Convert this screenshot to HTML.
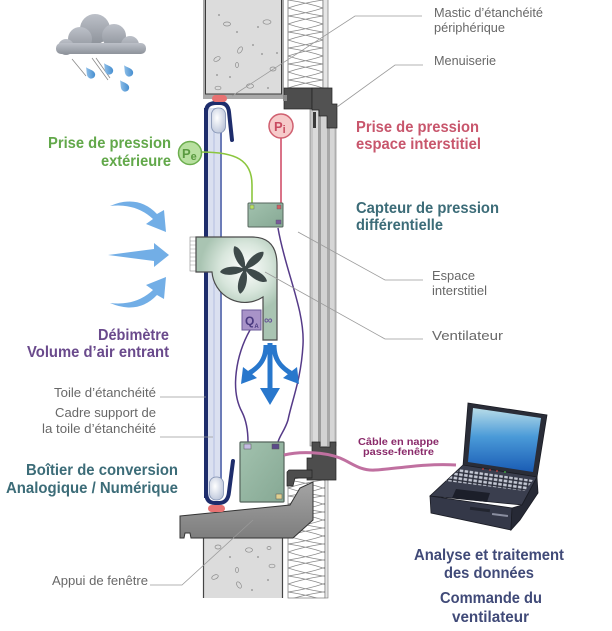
<!DOCTYPE html>
<html><head><meta charset="utf-8"><style>html,body{margin:0;padding:0;background:#fff}svg{display:block}</style></head>
<body>
<svg width="612" height="631" viewBox="0 0 612 631" xmlns="http://www.w3.org/2000/svg" font-family="'Liberation Sans', Arial, sans-serif">
<defs>
  <linearGradient id="cloudG" x1="0" y1="0" x2="0" y2="1"><stop offset="0" stop-color="#bcc0c8"/><stop offset="1" stop-color="#8e939b"/></linearGradient>
  <linearGradient id="dropG" x1="0" y1="0" x2="1" y2="1"><stop offset="0" stop-color="#a8d0f0"/><stop offset="1" stop-color="#3a86cc"/></linearGradient>
  <radialGradient id="fanG" cx="245" cy="268" r="45" gradientUnits="userSpaceOnUse"><stop offset="0" stop-color="#ffffff"/><stop offset="0.55" stop-color="#d8e6dc"/><stop offset="1" stop-color="#a9c4b2"/></radialGradient>
  <radialGradient id="bulbG" cx="0.4" cy="0.4" r="0.7"><stop offset="0" stop-color="#ffffff"/><stop offset="1" stop-color="#b8c2d8"/></radialGradient>
  <linearGradient id="sillG" x1="0" y1="0" x2="0" y2="1"><stop offset="0" stop-color="#a4a4a4"/><stop offset="1" stop-color="#7e7e7e"/></linearGradient>
  <linearGradient id="screenG" x1="0" y1="0" x2="0" y2="1"><stop offset="0" stop-color="#b8dce8"/><stop offset="0.45" stop-color="#4a9ad8"/><stop offset="1" stop-color="#1a5cb4"/></linearGradient>
  <linearGradient id="boxG" x1="0" y1="0" x2="1" y2="1"><stop offset="0" stop-color="#a2c2ae"/><stop offset="1" stop-color="#86a894"/></linearGradient>
  <pattern id="ins" x="288" y="0" width="35" height="16" patternUnits="userSpaceOnUse">
    <rect width="35" height="16" fill="#fff"/>
    <path d="M0,0 Q20,3 35,8 Q20,13 0,16 M35,0 Q15,3 0,8 Q15,13 35,16" fill="none" stroke="#8a8a8a" stroke-width="0.8"/>
  </pattern>
  <pattern id="keys" width="5" height="4" patternUnits="userSpaceOnUse" patternTransform="rotate(8)">
    <rect width="5" height="4" fill="#2a2d3a"/><rect x="0.7" y="0.7" width="3.6" height="2.6" fill="#c4c8d4"/>
  </pattern>
</defs>

<!-- Cloud -->
<g fill="url(#cloudG)">
  <circle cx="95" cy="29" r="15"/><circle cx="80" cy="39" r="12"/><circle cx="114" cy="36" r="12"/>
  <circle cx="130" cy="45" r="9"/><circle cx="66" cy="47" r="8"/>
  <rect x="56" y="43" width="90" height="11" rx="5"/>
</g>
<g stroke="#8a8a8a" stroke-width="0.8">
  <line x1="72" y1="59" x2="86" y2="76"/><line x1="92" y1="58" x2="108" y2="80"/><line x1="96" y1="58" x2="110" y2="78"/>
</g>
<g fill="url(#dropG)">
  <path d="M0,-7 C1,-4 4,-1 4,2 A4,4 0 1 1 -4,2 C-4,-1 -1,-4 0,-7 Z" transform="translate(90,73) rotate(-35)"/>
  <path d="M0,-7 C1,-4 4,-1 4,2 A4,4 0 1 1 -4,2 C-4,-1 -1,-4 0,-7 Z" transform="translate(108,69) rotate(-35)"/>
  <path d="M0,-7 C1,-4 4,-1 4,2 A4,4 0 1 1 -4,2 C-4,-1 -1,-4 0,-7 Z" transform="translate(128,71) rotate(-35)"/>
  <path d="M0,-7 C1,-4 4,-1 4,2 A4,4 0 1 1 -4,2 C-4,-1 -1,-4 0,-7 Z" transform="translate(124,86) rotate(-35)"/>
</g>

<!-- Top concrete -->
<rect x="203" y="-1" width="81" height="100" fill="#a9a9a9"/>
<rect x="205.5" y="-1" width="76" height="95" fill="#dcdcdc" stroke="#3a3a3a" stroke-width="1"/>
<g fill="none" stroke="#8c8c8c" stroke-width="0.7">
  <ellipse cx="227" cy="24" rx="3.5" ry="2"/><ellipse cx="267" cy="22" rx="4" ry="2.2"/>
  <ellipse cx="240" cy="50" rx="2" ry="3.5" transform="rotate(30 240 50)"/><ellipse cx="217" cy="59" rx="3.5" ry="2" transform="rotate(-30 217 59)"/>
  <ellipse cx="218" cy="88" rx="3" ry="1.8"/><ellipse cx="250" cy="86" rx="3.5" ry="2.2"/><ellipse cx="273" cy="69" rx="3" ry="2"/>
  <ellipse cx="237" cy="65" rx="1.5" ry="2.5"/>
</g>
<g fill="#8c8c8c">
  <circle cx="219" cy="15" r="0.9"/><circle cx="253" cy="45" r="0.9"/><circle cx="237" cy="32" r="0.9"/><circle cx="258" cy="27" r="0.9"/>
  <circle cx="277" cy="53" r="0.9"/><circle cx="230" cy="77" r="0.9"/><circle cx="268" cy="88" r="0.9"/><circle cx="217" cy="75" r="0.9"/><circle cx="262" cy="54" r="0.9"/>
</g>
<!-- top insulation -->
<rect x="288" y="-1" width="35" height="89" fill="url(#ins)" stroke="#777" stroke-width="0.8"/>
<rect x="323" y="-1" width="5" height="89" fill="#e6e6e6" stroke="#777" stroke-width="0.7"/>

<!-- Glazing frame -->
<rect x="310" y="106" width="26" height="340" fill="#c6c6c6" stroke="#777" stroke-width="0.6"/>
<rect x="313" y="106" width="5" height="340" fill="#dadada"/>
<rect x="318" y="106" width="3" height="340" fill="#9c9c9c"/>
<rect x="321" y="106" width="6" height="340" fill="#d2d2d2"/>
<rect x="327" y="106" width="3" height="340" fill="#a8a8a8"/>
<rect x="330" y="106" width="4" height="340" fill="#d6d6d6"/>

<!-- Top dark frame -->
<rect x="284" y="88" width="28" height="21" fill="#4d4d4d" stroke="#222" stroke-width="0.7"/>
<rect x="283" y="95" width="4" height="6" fill="#8a8a8a"/>
<polygon points="312,88 332,88 332,104 337,104 337,128 327,128 327,116 319,116 319,110 312,110" fill="#525252" stroke="#222" stroke-width="0.7"/>
<rect x="313" y="112" width="3" height="16" fill="#3a3a3a"/>

<!-- Bottom insulation + concrete -->
<rect x="288" y="478" width="37" height="120" fill="url(#ins)" stroke="#777" stroke-width="0.7"/>
<rect x="325" y="478" width="3" height="120" fill="#e6e6e6" stroke="#777" stroke-width="0.6"/>
<rect x="203" y="536" width="80" height="62" fill="#dcdcdc"/>
<line x1="203.5" y1="536" x2="203.5" y2="598" stroke="#444" stroke-width="1.2"/>
<line x1="282.5" y1="536" x2="282.5" y2="598" stroke="#444" stroke-width="1.2"/>
<g fill="none" stroke="#8c8c8c" stroke-width="0.7">
  <ellipse cx="218" cy="547" rx="3" ry="2"/><ellipse cx="249" cy="550" rx="3.5" ry="2.2"/><ellipse cx="269" cy="548" rx="2" ry="1.5"/>
  <ellipse cx="272" cy="566" rx="3" ry="1.8"/><ellipse cx="237" cy="570" rx="1.5" ry="2.5"/><ellipse cx="215" cy="577" rx="3.5" ry="2" transform="rotate(-25 215 577)"/>
  <ellipse cx="239" cy="585" rx="2" ry="3.5" transform="rotate(-30 239 585)"/>
</g>
<g fill="#8c8c8c"><circle cx="230" cy="557" r="0.9"/><circle cx="258" cy="557" r="0.9"/><circle cx="252" cy="590" r="0.9"/><circle cx="268" cy="580" r="0.9"/></g>

<!-- Sill -->
<path d="M180,516 L290,505 L300,488 L313,482 L313,520 L293,538 L191,538 L190,533 L185,533 L184,538 L180,538 Z" fill="url(#sillG)" stroke="#333" stroke-width="1"/>
<!-- Bottom dark frame -->
<polygon points="312,442 320,442 320,447 330,447 330,442 336,442 336,480 307,480 307,458 312,458" fill="#4d4d4d" stroke="#222" stroke-width="0.7"/>
<polygon points="289,470 312,470 312,478 295,478 293,486 287,486 287,472" fill="#4d4d4d" stroke="#222" stroke-width="0.7"/>

<!-- Blue rail -->
<rect x="204" y="108" width="4" height="390" fill="#1e2d6c"/>
<rect x="208" y="108" width="12" height="390" fill="#dae0f0"/>
<rect x="213.5" y="108" width="1" height="390" fill="#b4bee0"/>
<rect x="220" y="108" width="2" height="390" fill="#6c7cb8"/>
<path d="M206,140 L206,112 Q206,103 216,103 L220,103 Q228,103 229,112 L232,140" fill="none" stroke="#1e2d6c" stroke-width="4" stroke-linecap="round"/>
<rect x="211.5" y="108" width="14" height="25" rx="6.5" fill="url(#bulbG)" stroke="#8090b0" stroke-width="0.8"/>
<path d="M206,470 L206,492 Q206,503 215,503 L219,503 Q228,503 229,492 L233,461" fill="none" stroke="#1e2d6c" stroke-width="4" stroke-linecap="round"/>
<rect x="209.5" y="477" width="14" height="23" rx="6.5" fill="url(#bulbG)" stroke="#8090b0" stroke-width="0.8"/>
<rect x="212" y="95" width="15" height="7" rx="3.5" fill="#e87272"/>
<rect x="208" y="505" width="17" height="7" rx="3.5" fill="#e87272"/>

<!-- Airflow arrows left -->
<g fill="#72aee6">
  <path d="M110,206 Q138,194 157,214 L164,210 L166,232 L146,224 L153,219 Q136,203 110,206 Z"/>
  <path d="M108,255 L154,249 L154,243 L169,255 L154,267 L154,261 Z"/>
  <path d="M110,303 Q138,315 157,295 L164,299 L166,277 L146,285 L153,290 Q136,306 110,303 Z"/>
</g>

<!-- Wires -->
<path d="M201,152 C236,152 252,160 252,185 L252,205" fill="none" stroke="#8cc63e" stroke-width="1.6"/>
<line x1="281" y1="138" x2="281" y2="205" stroke="#d0506a" stroke-width="1.6"/>
<path d="M278,228 C285,270 305,310 303,345 C301,380 292,400 288,420 C285,430 280,435 278,442" fill="none" stroke="#553a88" stroke-width="1.5"/>
<path d="M250,330 C236,355 230,390 242,412 C246,420 248,430 248,442" fill="none" stroke="#553a88" stroke-width="1.5"/>

<!-- Pressure circles -->
<circle cx="190" cy="153" r="11.5" fill="#b8e0a0" stroke="#6cae4e" stroke-width="1.5"/>
<text x="182" y="158" font-size="13" font-weight="bold" fill="#5a9a40">P<tspan font-size="11" dy="2">e</tspan></text>
<circle cx="281" cy="126" r="12" fill="#f6caca" stroke="#d06070" stroke-width="1.5"/>
<text x="274" y="131" font-size="13" font-weight="bold" fill="#c84a60">P<tspan font-size="11" dy="2">i</tspan></text>

<!-- Capteur box -->
<rect x="248" y="203" width="35" height="24" rx="1" fill="url(#boxG)" stroke="#55655c" stroke-width="1"/>
<rect x="250" y="205" width="4" height="4" fill="#b8e060" stroke="#556" stroke-width="0.4"/>
<rect x="277" y="205" width="4" height="4" fill="#d06060" stroke="#556" stroke-width="0.4"/>
<rect x="276" y="220" width="5" height="4" fill="#7a5a9a" stroke="#556" stroke-width="0.4"/>

<!-- Fan housing -->
<rect x="190" y="237" width="6" height="34" fill="#fff" stroke="#888" stroke-width="0.6"/>
<g stroke="#999" stroke-width="0.5"><line x1="190" y1="241" x2="196" y2="241"/><line x1="190" y1="245" x2="196" y2="245"/><line x1="190" y1="249" x2="196" y2="249"/><line x1="190" y1="253" x2="196" y2="253"/><line x1="190" y1="257" x2="196" y2="257"/><line x1="190" y1="261" x2="196" y2="261"/><line x1="190" y1="265" x2="196" y2="265"/></g>
<path d="M196,237 L252,237 Q277,237 277,265 L277,340 L263,340 L263,297 A33,33 0 0 1 212,272 L196,272 Z" fill="url(#fanG)" stroke="#4a4a4a" stroke-width="1.2"/>
<g fill="#3e4a4a" transform="translate(245,269)">
  <path d="M0,0 C5,-6 20,-8 25,-3 C22,3 8,4 0,0 Z" transform="rotate(36)"/>
  <path d="M0,0 C5,-6 20,-8 25,-3 C22,3 8,4 0,0 Z" transform="rotate(108)"/>
  <path d="M0,0 C5,-6 20,-8 25,-3 C22,3 8,4 0,0 Z" transform="rotate(180)"/>
  <path d="M0,0 C5,-6 20,-8 25,-3 C22,3 8,4 0,0 Z" transform="rotate(252)"/>
  <path d="M0,0 C5,-6 20,-8 25,-3 C22,3 8,4 0,0 Z" transform="rotate(324)"/>
  <circle r="3"/>
</g>
<rect x="242" y="310" width="19" height="20" fill="#a893c8" stroke="#6a5898" stroke-width="1"/>
<text x="245" y="325" font-size="12" font-weight="bold" fill="#4a3a80">Q<tspan font-size="6" dy="3">A</tspan></text>
<text x="264" y="324" font-size="12" font-weight="bold" fill="#6a5898">∞</text>

<!-- Outlet arrows -->
<g fill="#2877cc">
  <rect x="267.5" y="343" width="5" height="47"/>
  <polygon points="260,388 280,388 270,405"/>
  <path d="M263.5,345 C263.5,360 256,366 248,371 L251,375 C260,369 268.5,361 268.5,345 Z"/>
  <polygon points="243,367 257,378 241,384"/>
  <path d="M276.5,345 C276.5,360 284,366 292,371 L289,375 C280,369 271.5,361 271.5,345 Z"/>
  <polygon points="297,367 283,378 299,384"/>
</g>

<!-- Boitier -->
<rect x="240" y="442" width="44" height="60" rx="1" fill="url(#boxG)" stroke="#55655c" stroke-width="1.2"/>
<rect x="244" y="444" width="7" height="5" fill="#c4bce2" stroke="#555" stroke-width="0.5"/>
<rect x="272" y="444" width="7" height="5" fill="#5a4a8a" stroke="#555" stroke-width="0.5"/>
<rect x="276" y="494" width="6" height="5" fill="#e0d090" stroke="#555" stroke-width="0.5"/>

<!-- Cable -->
<path d="M284,455 C300,451 325,452 340,458 C352,463 360,471 375,470 C395,469 425,463 456,465" fill="none" stroke="#c070a0" stroke-width="3"/>

<!-- Laptop -->
<polygon points="468,403 547,415 537,477 463,466" fill="#2a2d38" stroke="#1a1c24" stroke-width="0.8"/>
<polygon points="473,408 541,418 533,472 468,462" fill="url(#screenG)"/>
<polygon points="463,465 537,477 522,505 430,496" fill="#3a3e4e" stroke="#1a1c24" stroke-width="0.8"/>
<polygon points="460,469 533,480 525,491 446,481" fill="url(#keys)"/>
<g fill="#d04040"><circle cx="483" cy="469" r="0.9"/><circle cx="490" cy="470" r="0.9"/><circle cx="497" cy="471" r="0.9"/></g>
<circle cx="505" cy="472" r="0.9" fill="#40c040"/>
<polygon points="456,489 490,493 487,502 452,498" fill="#1c1f2a"/>
<polygon points="430,496 512,508 511,530 431,513" fill="#343848" stroke="#1a1c24" stroke-width="0.8"/>
<polygon points="512,508 522,505 537,477 538,493 520,520 511,530" fill="#262935" stroke="#1a1c24" stroke-width="0.8"/>
<rect x="470" y="508" width="20" height="3" fill="#22252f" transform="rotate(7 480 509)"/>
<rect x="492" y="514" width="16" height="2" fill="#8a8ea0" transform="rotate(7 500 515)"/>

<!-- Leader lines -->
<g fill="none" stroke="#9a9a9a" stroke-width="0.8">
  <polyline points="422,16 355,16 232,96"/>
  <polyline points="423,65 395,65 337,107"/>
  <polyline points="423,280 385,280 298,232"/>
  <polyline points="423,339 385,339 265,272"/>
  <polyline points="160,397 206,397"/>
  <polyline points="160,437 213,437"/>
  <polyline points="150,585 182,585 253,520"/>
</g>

<!-- Gray labels -->
<g font-size="13" fill="#686868">
  <text x="434" y="17" textLength="109" lengthAdjust="spacingAndGlyphs">Mastic d’étanchéité</text>
  <text x="434" y="32" textLength="71" lengthAdjust="spacingAndGlyphs">périphérique</text>
  <text x="434" y="65" textLength="62" lengthAdjust="spacingAndGlyphs">Menuiserie</text>
  <text x="432" y="280" textLength="43" lengthAdjust="spacingAndGlyphs">Espace</text>
  <text x="432" y="295" textLength="55" lengthAdjust="spacingAndGlyphs">interstitiel</text>
  <text x="432" y="340" textLength="71" lengthAdjust="spacingAndGlyphs">Ventilateur</text>
  <text x="54" y="397" textLength="102" lengthAdjust="spacingAndGlyphs">Toile d’étanchéité</text>
  <text x="55" y="417" textLength="101" lengthAdjust="spacingAndGlyphs">Cadre support de</text>
  <text x="42" y="433" textLength="114" lengthAdjust="spacingAndGlyphs">la toile d’étanchéité</text>
  <text x="52" y="585" textLength="96" lengthAdjust="spacingAndGlyphs">Appui de fenêtre</text>
</g>

<!-- Bold labels -->
<g font-size="15.5" font-weight="bold">
  <text x="48" y="148" fill="#62a84a" textLength="123" lengthAdjust="spacingAndGlyphs">Prise de pression</text>
  <text x="101" y="166" fill="#62a84a" textLength="70" lengthAdjust="spacingAndGlyphs">extérieure</text>
  <text x="356" y="132" fill="#c8566c" textLength="123" lengthAdjust="spacingAndGlyphs">Prise de pression</text>
  <text x="356" y="149" fill="#c8566c" textLength="125" lengthAdjust="spacingAndGlyphs">espace interstitiel</text>
  <text x="356" y="213" fill="#3c6c78" textLength="143" lengthAdjust="spacingAndGlyphs">Capteur de pression</text>
  <text x="356" y="230" fill="#3c6c78" textLength="87" lengthAdjust="spacingAndGlyphs">différentielle</text>
  <text x="98" y="340" fill="#6a4a8c" textLength="71" lengthAdjust="spacingAndGlyphs">Débimètre</text>
  <text x="27" y="357" fill="#6a4a8c" textLength="142" lengthAdjust="spacingAndGlyphs">Volume d’air entrant</text>
  <text x="26" y="475" fill="#3c6c78" textLength="152" lengthAdjust="spacingAndGlyphs">Boîtier de conversion</text>
  <text x="6" y="493" fill="#3c6c78" textLength="172" lengthAdjust="spacingAndGlyphs">Analogique / Numérique</text>
  <text x="414" y="560" fill="#404a78" textLength="150" lengthAdjust="spacingAndGlyphs">Analyse et traitement</text>
  <text x="444" y="578" fill="#404a78" textLength="90" lengthAdjust="spacingAndGlyphs">des données</text>
  <text x="440" y="603" fill="#404a78" textLength="102" lengthAdjust="spacingAndGlyphs">Commande du</text>
  <text x="452" y="622" fill="#404a78" textLength="77" lengthAdjust="spacingAndGlyphs">ventilateur</text>
</g>
<g font-size="10.5" font-weight="bold" fill="#8a2a6a">
  <text x="358" y="445" textLength="81" lengthAdjust="spacingAndGlyphs">Câble en nappe</text>
  <text x="363" y="455" textLength="71" lengthAdjust="spacingAndGlyphs">passe-fenêtre</text>
</g>
</svg>
</body></html>
